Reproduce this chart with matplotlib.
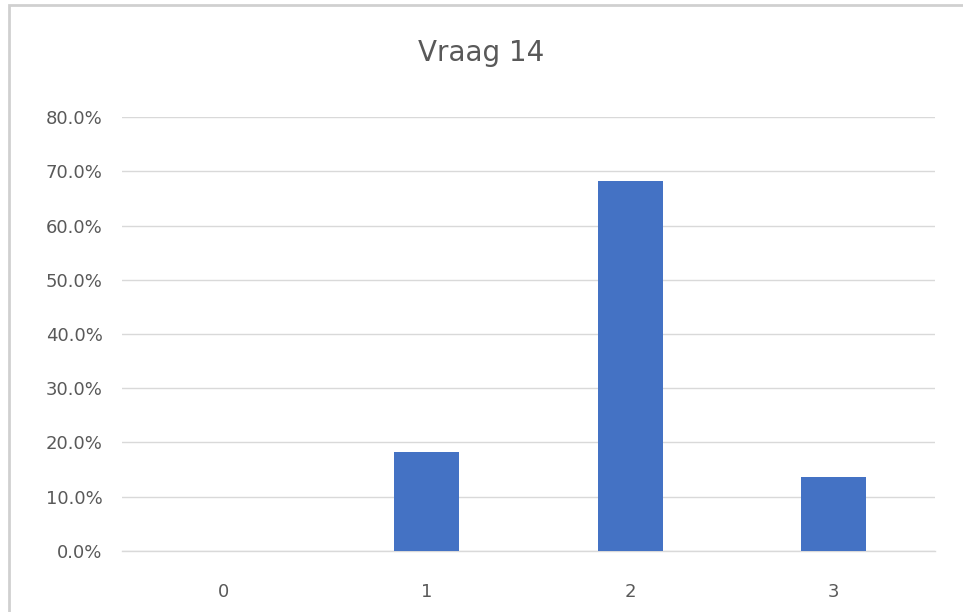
import matplotlib
matplotlib.use("Agg")
import matplotlib.pyplot as plt
from matplotlib.patches import Rectangle
from matplotlib.ticker import PercentFormatter

categories = ["0", "1", "2", "3"]
shares = [0.0, 18.2, 68.2, 13.6]   # percent of respondents
y_ticks = [0, 10, 20, 30, 40, 50, 60, 70, 80]

BAR = "#4472c4"
GRID = "#d9d9d9"
TXT = "#595959"

fig = plt.figure(figsize=(9.63, 6.12), dpi=100)
fig.patch.set_facecolor("white")

# chart frame
fig.add_artist(Rectangle((0.009, -0.01), 1.0, 1.002, transform=fig.transFigure,
                         fill=False, edgecolor="#d0d0d0", lw=2.0))

ax = fig.add_axes([0.1267, 0.0997, 0.8443, 0.7091])
ax.bar(range(len(categories)), shares, width=0.32, color=BAR, zorder=3)

ax.set_xlim(-0.5, len(categories) - 0.5)
ax.set_ylim(0, 80)
ax.set_yticks(y_ticks)
ax.yaxis.set_major_formatter(PercentFormatter(decimals=1))
ax.set_xticks(range(len(categories)))
ax.set_xticklabels(categories)

ax.grid(axis="y", color=GRID, lw=1.0, zorder=0)
for s in ("top", "right", "left"):
    ax.spines[s].set_visible(False)
ax.spines["bottom"].set_color(GRID)
ax.spines["bottom"].set_linewidth(1.0)
ax.tick_params(axis="both", length=0, colors=TXT, labelsize=13)
ax.tick_params(axis="y", pad=14)
ax.tick_params(axis="x", pad=23)

fig.text(0.5, 0.913, "Vraag 14", ha="center", va="center",
         fontsize=20, color=TXT)

fig.savefig("out.png", dpi=100, facecolor="white")
